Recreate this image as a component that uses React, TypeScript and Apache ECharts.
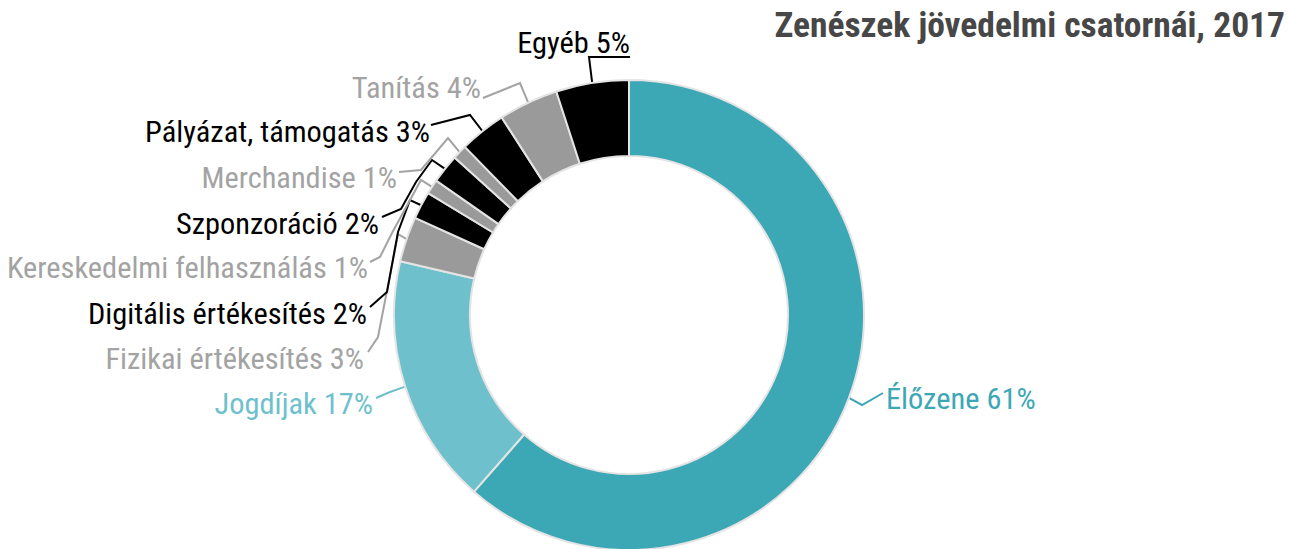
import React, { useEffect, useRef } from "react";
import * as echarts from "echarts";

// ---- data ----
const categories = [
  "Élőzene",
  "Jogdíjak",
  "Fizikai értékesítés",
  "Digitális értékesítés",
  "Kereskedelmi felhasználás",
  "Szponzoráció",
  "Merchandise",
  "Pályázat, támogatás",
  "Tanítás",
  "Egyéb",
];
const shares = [61.4, 17.2, 3.1, 1.9, 1.0, 2.0, 1.0, 3.2, 4.1, 5.0];

const titleText = "Zenészek jövedelmi csatornái, 2017";

// ---- styles ----
const TEAL = "#3ca7b5";
const LIGHT_TEAL = "#6ec1cc";
const GRAY = "#9a9a9a";
const LABEL_GRAY = "#a3a3a3";
const BLACK = "#000000";

const sliceColors = [TEAL, LIGHT_TEAL, GRAY, BLACK, GRAY, BLACK, GRAY, BLACK, GRAY, BLACK];
const labelColors = [TEAL, LIGHT_TEAL, LABEL_GRAY, BLACK, LABEL_GRAY, BLACK, LABEL_GRAY, BLACK, LABEL_GRAY, BLACK];

const FONT = "'Roboto Condensed', 'Liberation Sans Narrow', Roboto, sans-serif";

// label placement (layout, pixels): text anchor + leader-line bend points
const labelLayouts: { x: number; y: number; align: string; bends: number[][] }[] = [
  { x: 886, y: 398, align: "left", bends: [[862, 405], [883, 393]] },
  { x: 373, y: 403, align: "right", bends: [[390, 392], [376, 398]] },
  { x: 364, y: 358, align: "right", bends: [[398, 234], [378, 337], [368, 352]] },
  { x: 367, y: 313, align: "right", bends: [[410, 200], [398, 232], [387, 292], [370, 307]] },
  { x: 368, y: 267, align: "right", bends: [[421, 180], [392, 233], [380, 257], [370, 262]] },
  { x: 379, y: 223, align: "right", bends: [[432, 160], [416, 182], [401, 209], [382, 217]] },
  { x: 397, y: 177, align: "right", bends: [[448, 138], [421, 170], [399, 172]] },
  { x: 430, y: 131, align: "right", bends: [[470, 115], [431, 125]] },
  { x: 481, y: 87, align: "right", bends: [[520, 83], [483, 98]] },
  { x: 630, y: 42, align: "right", bends: [[589, 57], [630, 57]] },
];

export default function App() {
  const ref = useRef<HTMLDivElement>(null);

  useEffect(() => {
    document.body.style.margin = "0";
    if (!ref.current) return;
    const chart = echarts.init(ref.current, undefined, { renderer: "svg" });

    const data = categories.map((name, i) => ({
      name,
      value: shares[i],
      itemStyle: { color: sliceColors[i] },
      label: { color: labelColors[i] },
      labelLine: { lineStyle: { color: labelColors[i] } },
    }));

    chart.setOption({
      animation: false,
      backgroundColor: "#ffffff",
      title: {
        text: titleText,
        right: 7,
        top: 7,
        padding: 0,
        textStyle: {
          fontFamily: FONT,
          fontSize: 35.5,
          fontWeight: "bold",
          color: "#474747",
        },
      },
      series: [
        {
          type: "pie",
          center: [629, 315],
          radius: [159, 235],
          startAngle: 90,
          clockwise: true,
          avoidLabelOverlap: false,
          itemStyle: { borderColor: "#e4e4e4", borderWidth: 2 },
          label: {
            show: true,
            position: "outside",
            fontFamily: FONT,
            fontSize: 30.4,
            formatter: (p: any) => `${p.name} ${Math.round(p.value)}%`,
          },
          labelLine: {
            show: true,
            length: 10,
            length2: 10,
            lineStyle: { width: 2 },
          },
          emphasis: { disabled: true },
          labelLayout: (params: any) => {
            const L = labelLayouts[params.dataIndex];
            const pts = params.labelLinePoints;
            const p0 = pts && pts[0] ? [pts[0][0], pts[0][1]] : L.bends[0];
            return {
              x: L.x,
              y: L.y,
              align: L.align,
              verticalAlign: "middle",
              labelLinePoints: [p0, ...L.bends],
            };
          },
          data,
        },
      ],
    });

    return () => chart.dispose();
  }, []);

  return <div ref={ref} style={{ width: 1292, height: 549 }} />;
}
